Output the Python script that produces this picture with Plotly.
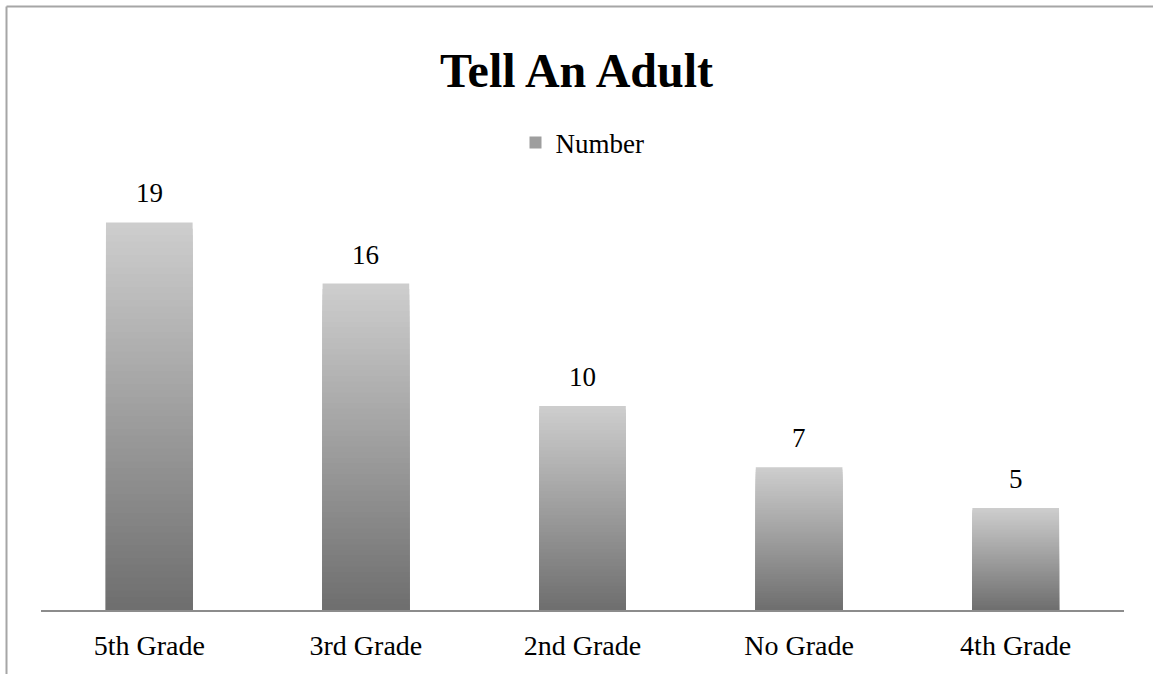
import plotly.graph_objects as go

categories = ["5th Grade", "3rd Grade", "2nd Grade", "No Grade", "4th Grade"]
values = [19, 16, 10, 7, 5]
series_name = "Number"
title_text = "Tell An Adult"

FONT = "Liberation Serif"
N = 60
top_gray, bottom_gray = 206, 110

def gray(t):
    g = int(round(bottom_gray + (top_gray - bottom_gray) * t))
    return f"rgb({g},{g},{g})"

fig = go.Figure()
for i in range(N):
    frac = 1 - i / N
    mid = 1 - (i + 0.5) / N
    fig.add_trace(go.Bar(
        x=categories,
        y=[v * frac for v in values],
        marker=dict(color=gray(mid), line=dict(width=0)),
        width=0.40,
        showlegend=False,
        hoverinfo="skip",
    ))

# legend entry
fig.add_trace(go.Bar(
    x=categories, y=[0] * len(values), name=series_name,
    marker=dict(color=gray(0.5), line=dict(width=0)),
    width=0.40, showlegend=True, hoverinfo="skip",
))

for c, v in zip(categories, values):
    fig.add_annotation(x=c, y=v, text=str(v), showarrow=False, yshift=29,
                       font=dict(family=FONT, size=27, color="black"))

L, R, T, B = 41, 29, 202, 64
W, H = 1153, 674
pw, ph = W - L - R, H - T - B
def px(x):
    return (x - L) / pw
def py(y):
    return (H - B - y) / ph

border = dict(color="#a6a6a6", width=2)
fig.add_shape(type="line", xref="paper", yref="paper", x0=px(6.5), x1=px(W + 5), y0=py(6.5), y1=py(6.5), line=border)
fig.add_shape(type="line", xref="paper", yref="paper", x0=px(6.5), x1=px(6.5), y0=py(6.5), y1=py(H + 5), line=border)

fig.update_layout(
    width=W, height=H,
    barmode="overlay",
    paper_bgcolor="white", plot_bgcolor="white",
    margin=dict(l=L, r=R, t=T, b=B, autoexpand=False),
    title=dict(text=f"<b>{title_text}</b>", x=0.5, xanchor="center", y=1 - 70 / H, yanchor="middle",
               font=dict(family=FONT, size=48, color="black")),
    legend=dict(orientation="h", x=0.5, xanchor="center", y=py(143), yanchor="middle",
                font=dict(family=FONT, size=27, color="black"), bgcolor="rgba(0,0,0,0)"),
    xaxis=dict(showline=True, linecolor="#8c8c8c", linewidth=2, showgrid=False, zeroline=False,
               ticks="", ticklabelstandoff=9, automargin=False,
               tickfont=dict(family=FONT, size=28, color="black")),
    yaxis=dict(range=[0, 20], showgrid=False, zeroline=False, showticklabels=False, showline=False,
               automargin=False),
    showlegend=True,
)

fig.write_html("out.html", config={"displayModeBar": False},
               post_script="document.body.style.margin='0';document.body.style.overflow='hidden';")
